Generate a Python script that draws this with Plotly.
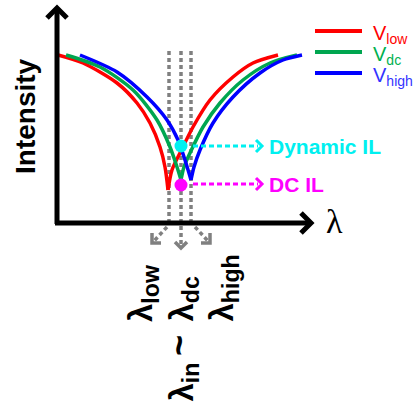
import plotly.graph_objects as go

# ---- data (lambda offset, intensity) ----
red_left_x = [1, 26, 60, 80, 93, 103, 108, 111]
red_left_y = [168, 160, 140, 120, 100, 76, 56, 33]
red_right_x = [111, 115, 123, 136, 153, 176, 196, 221]
red_right_y = [33, 53, 70, 96, 123, 146, 160, 168]

green_left_x = [9, 43, 76, 100, 113, 120, 124]
green_left_y = [168, 156, 133, 103, 76, 56, 43]
green_right_x = [124, 127, 133, 146, 163, 186, 213, 240]
green_right_y = [43, 56, 70, 96, 120, 143, 160, 168]

blue_left_x = [23, 60, 90, 110, 121, 128, 134]
blue_left_y = [168, 151, 126, 103, 83, 63, 43]
blue_right_x = [134, 137, 143, 156, 176, 203, 226, 245]
blue_right_y = [43, 56, 73, 100, 126, 150, 163, 168]

marker_x = [124, 124]
marker_y = [77, 38]
marker_colors = ["#00f0f0", "#ff00ff"]
marker_labels = ["Dynamic IL", "DC IL"]

lambda_marks = [112, 124, 134]  # lambda_low, lambda_dc, lambda_high
series_names = ["V<sub>low</sub>", "V<sub>dc</sub>", "V<sub>high</sub>"]
series_line_colors = ["#ff0000", "#00a650", "#0000ff"]
series_text_colors = ["#ff0000", "#00b050", "#3333ff"]

OX, OY = 57, 223  # pixel position of origin


def P(px, py):
    return px - OX, OY - py


fig = go.Figure()

branches = [
    (red_left_x, red_left_y, red_right_x, red_right_y),
    (green_left_x, green_left_y, green_right_x, green_right_y),
    (blue_left_x, blue_left_y, blue_right_x, blue_right_y),
]
GRAY = "#808080"

# gray dashed vertical lines
for lx in lambda_marks:
    fig.add_trace(go.Scatter(x=[lx, lx], y=[0, 173], mode="lines",
                             line=dict(color=GRAY, width=3.5, dash="4px,3px"),
                             showlegend=False, hoverinfo="skip"))

for (lx, ly, rx, ry), col in zip(branches, series_line_colors):
    for xs, ys in ((lx, ly), (rx, ry)):
        fig.add_trace(go.Scatter(x=xs, y=ys, mode="lines",
                                 line=dict(color=col, width=3.5, shape="spline", smoothing=0.8),
                                 showlegend=False, hoverinfo="skip"))

fig.add_trace(go.Scatter(x=marker_x, y=marker_y, mode="markers",
                         marker=dict(color=marker_colors, size=13, line=dict(width=0)),
                         showlegend=False, hoverinfo="skip"))

shapes = []


def line(p1, p2, color, width, dash=None):
    x0, y0 = P(*p1)
    x1, y1 = P(*p2)
    d = dict(type="line", x0=x0, y0=y0, x1=x1, y1=y1, xref="x", yref="y",
             line=dict(color=color, width=width))
    if dash:
        d["line"]["dash"] = dash
    shapes.append(d)


def poly(pts, color, width):
    path = "M " + " L ".join(f"{P(*p)[0]},{P(*p)[1]}" for p in pts)
    shapes.append(dict(type="path", path=path, xref="x", yref="y",
                       line=dict(color=color, width=width)))


# axes
line((57, 224), (57, 9), "black", 5)
line((55, 223), (310, 223), "black", 5)
poly([(47, 18), (57, 8), (67, 18)], "black", 5)
poly([(301, 213), (311, 223), (301, 233)], "black", 5)

# gray dashed arrows below axis
line((181, 226), (181, 247), GRAY, 3.5, "4px,3px")
poly([(175, 242), (181, 248), (187, 242)], GRAY, 3.5)
line((167, 227), (154, 241), GRAY, 3.5, "4px,3px")
poly([(152, 233), (152, 243), (161, 243)], GRAY, 3.5)
line((195, 227), (208, 241), GRAY, 3.5, "4px,3px")
poly([(210, 233), (210, 243), (201, 243)], GRAY, 3.5)

# IL arrows
for my, col in zip([146, 184], marker_colors):
    line((193, my), (258, my), col, 3, "5px,3px")
    poly([(256, my - 6), (262, my), (256, my + 6)], col, 3)

# legend lines
for i, col in enumerate(series_line_colors):
    ly = 31 + 21 * i
    line((315, ly), (362, ly), col, 4)

annotations = []


def text(px, py, s, size, color="black", family="Liberation Sans, Arial", angle=0,
         xanchor="center", yanchor="middle"):
    x, y = P(px, py)
    annotations.append(dict(x=x, y=y, xref="x", yref="y", text=s, showarrow=False,
                            font=dict(size=size, color=color, family=family),
                            textangle=angle, xanchor=xanchor, yanchor=yanchor))


text(25, 116, "<b>Intensity</b>", 28, angle=-90)
text(334, 221, "λ", 34, family="Liberation Serif, Times New Roman")

for i, (nm, col) in enumerate(zip(series_names, series_text_colors)):
    text(371, 34 + 21 * i, nm, 20, color=col, family="Liberation Sans, Arial", xanchor="left")

for my, col, lab in zip([146, 184], marker_colors, marker_labels):
    text(267, my, f"<b>{lab}</b>", 21, color=col, xanchor="left")

text(143, 324, "<b>λ<sub>low</sub></b>", 33, angle=-90, yanchor="bottom")
text(183, 324, "<b>λ<sub>dc</sub></b>", 33, angle=-90, yanchor="bottom")
text(223, 324, "<b>λ<sub>high</sub></b>", 33, angle=-90, yanchor="bottom")
text(178, 346, "<b>~</b>", 36, angle=-90)
text(183, 404, "<b>λ<sub>in</sub></b>", 33, angle=-90, yanchor="bottom")

fig.update_layout(
    width=416, height=405,
    margin=dict(l=0, r=0, t=0, b=0),
    paper_bgcolor="white", plot_bgcolor="white",
    xaxis=dict(range=[-OX, 416 - OX], visible=False, fixedrange=True),
    yaxis=dict(range=[OY - 405, OY], visible=False, fixedrange=True),
    shapes=shapes, annotations=annotations, showlegend=False,
)

fig.write_html("out.html")
